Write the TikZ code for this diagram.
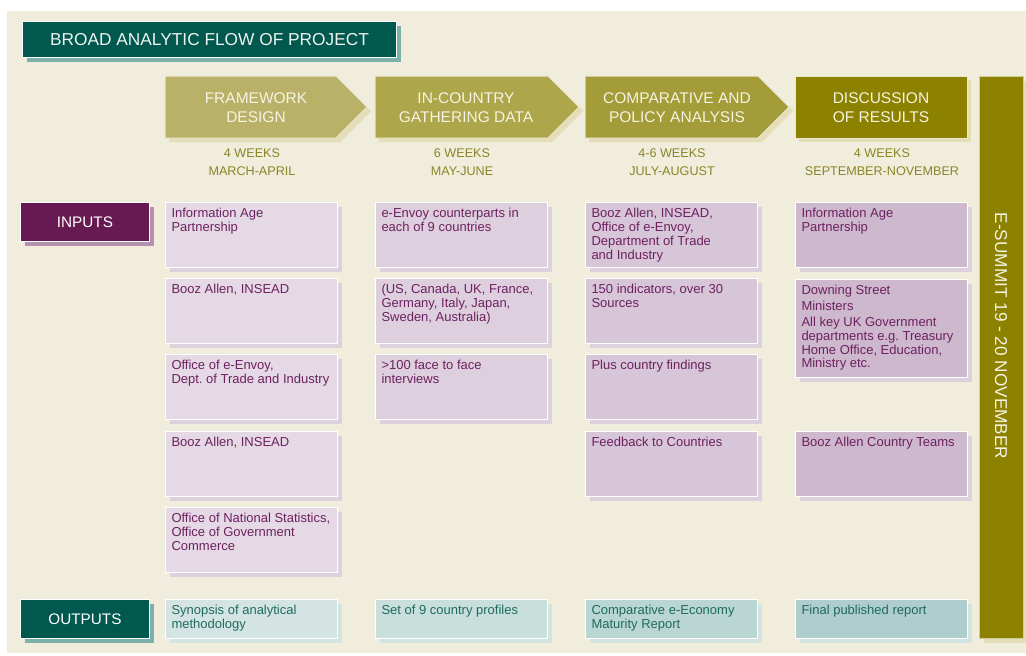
\documentclass[tikz,border=0pt]{standalone}
\usepackage{fontspec}
\setmainfont{Liberation Sans}
\usetikzlibrary{shadows}

\definecolor{cream}{HTML}{F1EDDC}
\definecolor{darkteal}{HTML}{00584F}
\definecolor{tealshadow}{HTML}{7DB0AA}
\definecolor{titletext}{HTML}{EEF3EE}
\definecolor{plum}{HTML}{661A51}
\definecolor{plumshadow}{HTML}{B690AF}
\definecolor{phaseA}{HTML}{B9B167}
\definecolor{phaseB}{HTML}{AEA64A}
\definecolor{phaseC}{HTML}{A39C38}
\definecolor{phaseD}{HTML}{8C8200}
\definecolor{phaseshadow}{HTML}{E4DDB8}
\definecolor{phasetext}{HTML}{F6F3E2}
\definecolor{weekcol}{HTML}{8A8526}
\definecolor{inA}{HTML}{E4D9E5}
\definecolor{inB}{HTML}{DDCFDE}
\definecolor{inC}{HTML}{D7C5D8}
\definecolor{inD}{HTML}{CDB8CE}
\definecolor{inshadow}{HTML}{DDD1DD}
\definecolor{outA}{HTML}{D4E4E2}
\definecolor{outB}{HTML}{C8DFDC}
\definecolor{outC}{HTML}{BAD6D3}
\definecolor{outD}{HTML}{AFCDCD}
\definecolor{outshadow}{HTML}{D3E3E0}
\definecolor{inkplum}{HTML}{6E2160}
\definecolor{inkteal}{HTML}{1E6B60}

% text of a cell, top aligned
\newcommand{\boxtxt}[2]{\parbox[t][#1][t]{160pt}{\frenchspacing\rightskip=-10pt plus 1fil\relax #2}}

\tikzset{
  banner/.style={anchor=north west, fill=darkteal, text=titletext, draw=white, line width=1pt,
    drop shadow={shadow xshift=4pt, shadow yshift=-4pt, fill=tealshadow, opacity=1}},
  intag/.style={anchor=north west, fill=plum, text=white, draw=white, line width=1pt,
    minimum width=129pt, minimum height=39pt, font=\fontsize{15.3}{18}\selectfont,
    drop shadow={shadow xshift=4pt, shadow yshift=-4pt, fill=plumshadow, opacity=1}},
  outtag/.style={intag, fill=darkteal,
    drop shadow={shadow xshift=4pt, shadow yshift=-4pt, fill=tealshadow, opacity=1}},
  phase/.style={draw=white!70!phaseA, line width=1pt,
    drop shadow={shadow xshift=4pt, shadow yshift=-4pt, fill=phaseshadow, opacity=1}},
  phasetxt/.style={text=phasetext, align=center, font=\fontsize{15.5}{19.3}\selectfont},
  weeks/.style={text=weekcol, align=center, font=\fontsize{12.6}{18}\selectfont},
  cellbase/.style={anchor=north west, draw=white, line width=1pt, inner xsep=6pt, inner ysep=6pt,
    font=\fontsize{13}{13.8}\selectfont},
  incell/.style={cellbase, text=inkplum,
    drop shadow={shadow xshift=4pt, shadow yshift=-4pt, fill=inshadow, opacity=1}},
  outcell/.style={cellbase, text=inkteal,
    drop shadow={shadow xshift=4pt, shadow yshift=-4pt, fill=outshadow, opacity=1}},
  summitbar/.style={anchor=north west, fill=phaseD, draw=white!60!phaseD, line width=1pt,
    minimum width=44pt, minimum height=562pt,
    drop shadow={shadow xshift=4pt, shadow yshift=-4pt, fill=phaseshadow, opacity=1}}
}

\begin{document}
\begin{tikzpicture}[x=1pt,y=-1pt]
  \useasboundingbox (0,0) rectangle (1026,656);
  %background
  \fill[white] (0,0) rectangle (1026,656);
  \fill[cream] (7,11) rectangle (1026,653);
  %title
  \node[banner, minimum width=374pt, minimum height=36pt, font=\fontsize{17.3}{20}\selectfont]
    (title) at (22,21) {BROAD ANALYTIC FLOW OF PROJECT};
  %phases
  \path[phase, fill=phaseA] (165,76) -- (336,76) -- (367,107) -- (336,138) -- (165,138) -- cycle;
  \path[phase, fill=phaseB] (375,76) -- (548,76) -- (579,107) -- (548,138) -- (375,138) -- cycle;
  \path[phase, fill=phaseC] (585,76) -- (758,76) -- (789,107) -- (758,138) -- (585,138) -- cycle;
  \path[phase, fill=phaseD] (795,76) rectangle (967,138);
  \node[phasetxt] (framework) at (256,108) {FRAMEWORK\\DESIGN};
  \node[phasetxt] (gathering) at (466,108) {IN-COUNTRY\\GATHERING DATA};
  \node[phasetxt] (analysis) at (677,108) {COMPARATIVE AND\\POLICY ANALYSIS};
  \node[phasetxt] (discussion) at (881,108) {DISCUSSION\\OF RESULTS};
  %durations
  \node[weeks] (weeksA) at (252,162.5) {4 WEEKS\\MARCH-APRIL};
  \node[weeks] (weeksB) at (462,162.5) {6 WEEKS\\MAY-JUNE};
  \node[weeks] (weeksC) at (672,162.5) {4-6 WEEKS\\JULY-AUGUST};
  \node[weeks] (weeksD) at (882,162.5) {4 WEEKS\\SEPTEMBER-NOVEMBER};
  %summit bar
  \node[summitbar] (bar) at (979,76) {};
  \node[text=phasetext, rotate=-90, font=\fontsize{17.2}{20}\selectfont]
    (summit) at (1001,336) {E-SUMMIT 19 - 20 NOVEMBER};
  %inputs
  \node[intag] (inputs) at (20,202) {INPUTS};
  \node[incell, fill=inA] (inA1) at (165,202) {\boxtxt{53pt}{Information Age\\Partnership}};
  \node[incell, fill=inA] (inA2) at (165,278) {\boxtxt{53pt}{Booz Allen, INSEAD}};
  \node[incell, fill=inA] (inA3) at (165,354) {\boxtxt{53pt}{Office of e-Envoy,\\Dept. of Trade and Industry}};
  \node[incell, fill=inA] (inA4) at (165,431) {\boxtxt{53pt}{Booz Allen, INSEAD}};
  \node[incell, fill=inA] (inA5) at (165,507) {\boxtxt{53pt}{Office of National Statistics,\\Office of Government\\Commerce}};
  \node[incell, fill=inB] (inB1) at (375,202) {\boxtxt{53pt}{e-Envoy counterparts in\\each of 9 countries}};
  \node[incell, fill=inB] (inB2) at (375,278) {\boxtxt{53pt}{(US, Canada, UK, France,\\Germany, Italy, Japan,\\Sweden, Australia)}};
  \node[incell, fill=inB] (inB3) at (375,354) {\boxtxt{53pt}{>100 face to face\\interviews}};
  \node[incell, fill=inC] (inC1) at (585,202) {\boxtxt{53pt}{Booz Allen, INSEAD,\\Office of e-Envoy,\\Department of Trade\\and Industry}};
  \node[incell, fill=inC] (inC2) at (585,278) {\boxtxt{53pt}{150 indicators, over 30\\Sources}};
  \node[incell, fill=inC] (inC3) at (585,354) {\boxtxt{53pt}{Plus country findings}};
  \node[incell, fill=inC] (inC4) at (585,431) {\boxtxt{53pt}{Feedback to Countries}};
  \node[incell, fill=inD] (inD1) at (795,202) {\boxtxt{53pt}{Information Age\\Partnership}};
  \node[incell, fill=inD] (inD2) at (795,279) {\boxtxt{86pt}{Downing Street\\[2pt]Ministers\\[2pt]All key UK Government\\departments e.g. Treasury\\Home Office, Education,\\Ministry etc.}};
  \node[incell, fill=inD] (inD4) at (795,431) {\boxtxt{53pt}{Booz Allen Country Teams}};
  %outputs
  \node[outtag] (outputs) at (20,599) {OUTPUTS};
  \node[outcell, fill=outA] (outA) at (165,599) {\boxtxt{27pt}{Synopsis of analytical\\methodology}};
  \node[outcell, fill=outB] (outB) at (375,599) {\boxtxt{27pt}{Set of 9 country profiles}};
  \node[outcell, fill=outC] (outC) at (585,599) {\boxtxt{27pt}{Comparative e-Economy\\Maturity Report}};
  \node[outcell, fill=outD] (outD) at (795,599) {\boxtxt{27pt}{Final published report}};
\end{tikzpicture}
\end{document}
